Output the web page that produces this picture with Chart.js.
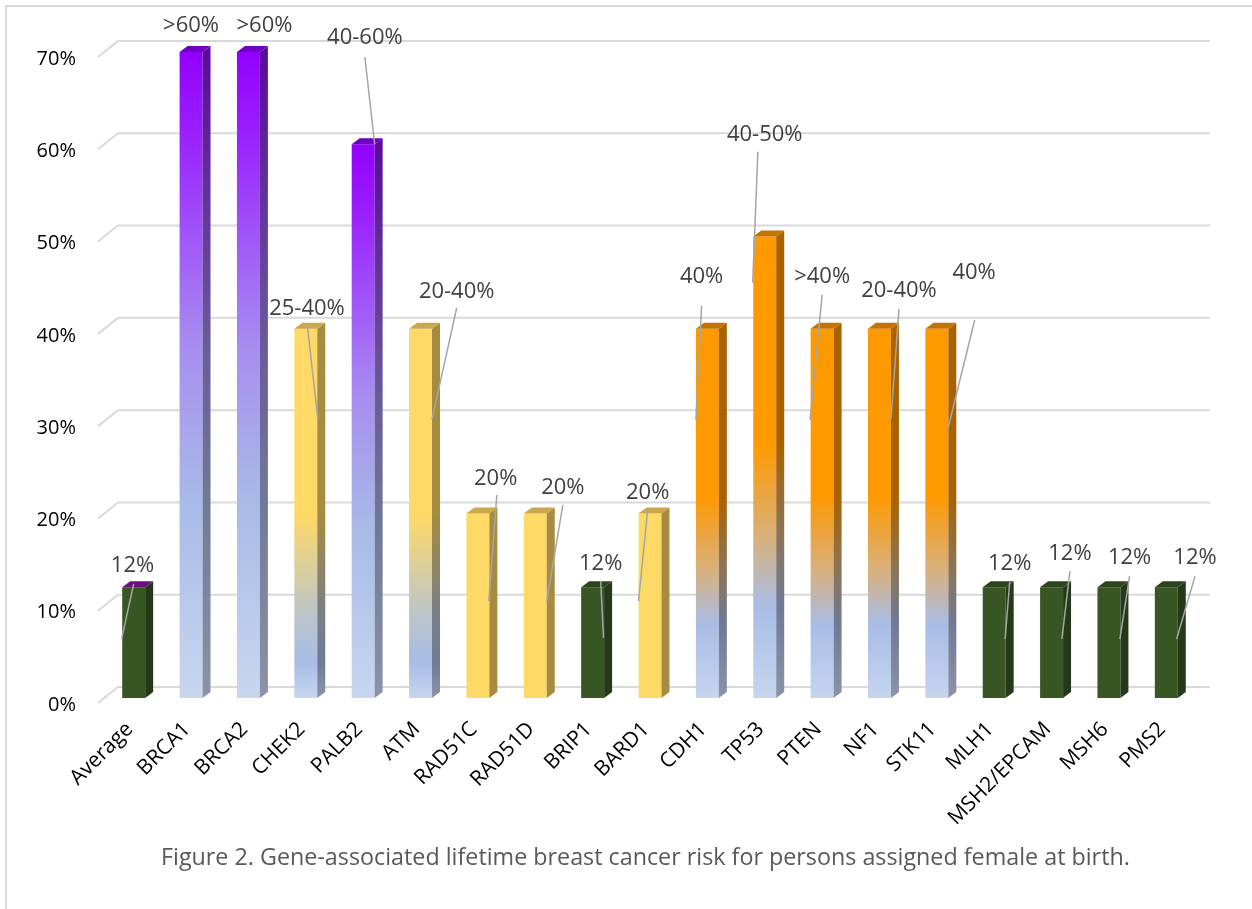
<!DOCTYPE html>
<html>
<head>
<meta charset="utf-8">
<script src="https://cdn.jsdelivr.net/npm/chart.js@4.4.0/dist/chart.umd.min.js"></script>
<style>
    html, body { margin: 0; padding: 0; background: #fff; }
    #wrap { position: relative; width: 1252px; height: 909px; overflow: hidden; }
    #frame { position: absolute; left: 5px; top: 5px; width: 1400px; height: 1000px;
             border-left: 2px solid #d9d9d9; border-top: 2px solid #d9d9d9; }
    #riskChart { position: absolute; left: 0; top: 0; }
    #caption { position: absolute; left: 161px; top: 840px; white-space: nowrap;
               font-family: "Open Sans"; font-size: 23.3px; color: #595959; }
</style>
</head>
<body>
<div id="wrap">
    <div id="frame"></div>
    <canvas id="riskChart" width="1252" height="909"></canvas>
    <div id="caption">Figure 2. Gene-associated lifetime breast cancer risk for persons assigned female at birth.</div>
</div>
<script>
const genes = ['Average', 'BRCA1', 'BRCA2', 'CHEK2', 'PALB2', 'ATM', 'RAD51C', 'RAD51D', 'BRIP1', 'BARD1',
    'CDH1', 'TP53', 'PTEN', 'NF1', 'STK11', 'MLH1', 'MSH2/EPCAM', 'MSH6', 'PMS2'];
const riskValues = [12, 70, 70, 40, 60, 40, 20, 20, 12, 20, 40, 50, 40, 40, 40, 12, 12, 12, 12];
const riskLabels = ['12%', '>60%', '>60%', '25-40%', '40-60%', '20-40%', '20%', '20%', '12%', '20%',
    '40%', '40-50%', '>40%', '20-40%', '40%', '12%', '12%', '12%', '12%'];
const barGroup = ['average', 'high', 'high', 'moderateFade', 'high', 'moderateFade', 'moderate', 'moderate', 'low', 'moderate',
    'syndrome', 'syndrome', 'syndrome', 'syndrome', 'syndrome', 'low', 'low', 'low', 'low'];
const yTicks = [0, 10, 20, 30, 40, 50, 60, 70];

// label centre + leader line, given as [category shift, value]
const labelSpots = [
    { at: [-0.02, 14.3], line: [0, 12.35, -0.21, 6.4] },
    { at: [0, 72.9] },
    { at: [0.28, 72.9] },
    { at: [0.02, 42.15], line: [0.03, 40.2, 0.21, 30.2] },
    { at: [0.03, 71.5], line: [0.03, 69.45, 0.2, 60.0] },
    { at: [0.63, 44.0], line: [0.63, 42.26, 0.2, 30.2] },
    { at: [0.31, 23.8], line: [0.33, 22.0, 0.19, 10.5] },
    { at: [0.48, 22.75], line: [0.48, 20.9, 0.2, 10.5] },
    { at: [0.14, 14.5], line: [0.14, 12.7, 0.19, 6.5] },
    { at: [-0.04, 22.2], line: [-0.04, 20.4, -0.2, 10.5] },
    { at: [-0.1, 45.6], line: [-0.1, 42.5, -0.2, 30.1] },
    { at: [0, 61.0], line: [-0.12, 59.2, -0.21, 45.0] },
    { at: [0, 45.6], line: [0, 43.7, -0.21, 30.1] },
    { at: [0.34, 44.1], line: [0.34, 42.15, 0.2, 30.2] },
    { at: [0.65, 46.05], line: [0.66, 40.96, 0.19, 29.1] },
    { at: [0.27, 14.5], line: [0.27, 12.57, 0.19, 6.39] },
    { at: [0.32, 15.6], line: [0.32, 13.76, 0.18, 6.39] },
    { at: [0.36, 15.17], line: [0.36, 13.2, 0.19, 6.39] },
    { at: [0.5, 15.17], line: [0.5, 13.2, 0.18, 6.39] }
];

// colours of the 3d bars: front, side, top
const barLooks = {
    average: { front: '#375623', side: '#25391a', top: '#6a0f7c' },
    low: { front: '#375623', side: '#25391a', top: '#2b441b' },
    moderate: { front: '#ffd966', side: '#a68b40', top: '#c9a94c' },
    high: {
        front: [[0, '#9300ff'], [0.12, '#9a1eff'], [0.45, '#a78cf0'], [0.7, '#a8bbe7'], [1, '#c8d6ef']],
        side: [[0, '#5a0a9c'], [0.45, '#6a5a9a'], [0.7, '#6f7a97'], [1, '#8a93a8']],
        top: '#7000c4'
    },
    moderateFade: {
        front: [[0, '#ffd966'], [0.5, '#ffd966'], [0.77, '#bcc5c8'], [0.9, '#a8bde6'], [1, '#c6d5ef']],
        side: [[0, '#a68b40'], [0.5, '#a68b40'], [0.77, '#7a7f86'], [0.9, '#6f7a97'], [1, '#8a93a8']],
        top: '#c9a94c'
    },
    syndrome: {
        front: [[0, '#ff9900'], [0.45, '#ff9900'], [0.65, '#d9b07a'], [0.8, '#a8bde6'], [1, '#c6d5ef']],
        side: [[0, '#a86300'], [0.45, '#a86300'], [0.65, '#8c7458'], [0.8, '#6f7a97'], [1, '#8a93a8']],
        top: '#c47300'
    }
};

function paint(look, ctx, top, bottom) {
    if (!Array.isArray(look)) return look;
    var g = ctx.createLinearGradient(0, top, 0, bottom);
    look.forEach(function (s) { g.addColorStop(s[0], s[1]); });
    return g;
}

// back wall grid lines with the little slanted floor edge on the left
const backWall = {
    id: 'backWall',
    beforeDatasetsDraw: function (chart) {
        var ctx = chart.ctx, ys = chart.scales.y, area = chart.chartArea;
        ctx.save();
        ctx.strokeStyle = '#d9d9d9';
        ctx.lineWidth = 2;
        yTicks.forEach(function (v) {
            var py = ys.getPixelForValue(v);
            ctx.beginPath();
            ctx.moveTo(area.left - 7, py + 5);
            ctx.lineTo(area.left + 13, py - 11);
            ctx.lineTo(area.right + 15, py - 11);
            ctx.stroke();
        });
        ctx.restore();
    }
};

// side and top faces of each bar
const barSides = {
    id: 'barSides',
    afterDatasetsDraw: function (chart) {
        var ctx = chart.ctx, dx = 8, dy = -6;
        var meta = chart.getDatasetMeta(0);
        ctx.save();
        meta.data.forEach(function (bar, i) {
            var p = bar.getProps(['x', 'y', 'base', 'width'], true);
            var look = barLooks[barGroup[i]];
            var l = p.x - p.width / 2, r = p.x + p.width / 2;
            ctx.fillStyle = paint(look.side, ctx, p.y, p.base);
            ctx.beginPath();
            ctx.moveTo(r, p.y);
            ctx.lineTo(r + dx, p.y + dy);
            ctx.lineTo(r + dx, p.base + dy);
            ctx.lineTo(r, p.base);
            ctx.closePath();
            ctx.fill();
            ctx.fillStyle = look.top;
            ctx.beginPath();
            ctx.moveTo(l, p.y);
            ctx.lineTo(l + dx, p.y + dy);
            ctx.lineTo(r + dx, p.y + dy);
            ctx.lineTo(r, p.y);
            ctx.closePath();
            ctx.fill();
        });
        ctx.restore();
    }
};

// value labels with grey leader lines
const riskTags = {
    id: 'riskTags',
    afterDraw: function (chart) {
        var ctx = chart.ctx, xs = chart.scales.x, ys = chart.scales.y;
        var cw = xs.width / genes.length;
        ctx.save();
        labelSpots.forEach(function (s, i) {
            var cx = xs.getPixelForValue(i);
            if (s.line) {
                ctx.strokeStyle = '#a6a6a6';
                ctx.lineWidth = 1.5;
                ctx.beginPath();
                ctx.moveTo(cx + s.line[0] * cw, ys.getPixelForValue(s.line[1]));
                ctx.lineTo(cx + s.line[2] * cw, ys.getPixelForValue(s.line[3]));
                ctx.stroke();
            }
            ctx.fillStyle = '#404040';
            ctx.font = '22px "Open Sans"';
            ctx.textAlign = 'center';
            ctx.textBaseline = 'middle';
            ctx.fillText(riskLabels[i], cx + s.at[0] * cw, ys.getPixelForValue(s.at[1]));
        });
        ctx.restore();
    }
};

var area = document.getElementById('riskChart').getContext('2d');
var riskChart = new Chart(area, {
    type: 'bar',
    data: {
        labels: genes,
        datasets: [{
            data: riskValues,
            barPercentage: 0.4,
            categoryPercentage: 1,
            borderWidth: 0,
            backgroundColor: function (c) {
                var look = barLooks[barGroup[c.dataIndex]];
                var ys = c.chart.scales.y;
                if (!Array.isArray(look.front)) return look.front;
                if (!ys || ys.top === undefined) return look.front[0][1];
                return paint(look.front, c.chart.ctx,
                    ys.getPixelForValue(riskValues[c.dataIndex]), ys.getPixelForValue(0));
            }
        }]
    },
    options: {
        responsive: false,
        animation: false,
        devicePixelRatio: 1,
        layout: { padding: { left: 0, right: 57, top: 52, bottom: 0 } },
        scales: {
            x: {
                grid: { display: false, drawTicks: false },
                border: { display: false },
                afterFit: function (scale) { scale.height = 211; },
                ticks: {
                    autoSkip: false,
                    minRotation: 45,
                    maxRotation: 45,
                    padding: 19,
                    labelOffset: -4,
                    color: '#000',
                    font: { family: 'Open Sans', size: 21 }
                }
            },
            y: {
                min: 0,
                max: 70,
                grid: { display: false, drawTicks: false },
                border: { display: false },
                afterFit: function (scale) { scale.width = 105; },
                afterBuildTicks: function (scale) {
                    scale.ticks = yTicks.map(function (v) { return { value: v }; });
                },
                ticks: {
                    padding: 29,
                    labelOffset: 7,
                    color: '#000',
                    font: { family: 'Open Sans', size: 20 },
                    callback: function (value) { return value + '%'; }
                }
            }
        },
        plugins: {
            legend: { display: false },
            tooltip: { enabled: false }
        }
    },
    plugins: [backWall, barSides, riskTags]
});
</script>
</body>
</html>
